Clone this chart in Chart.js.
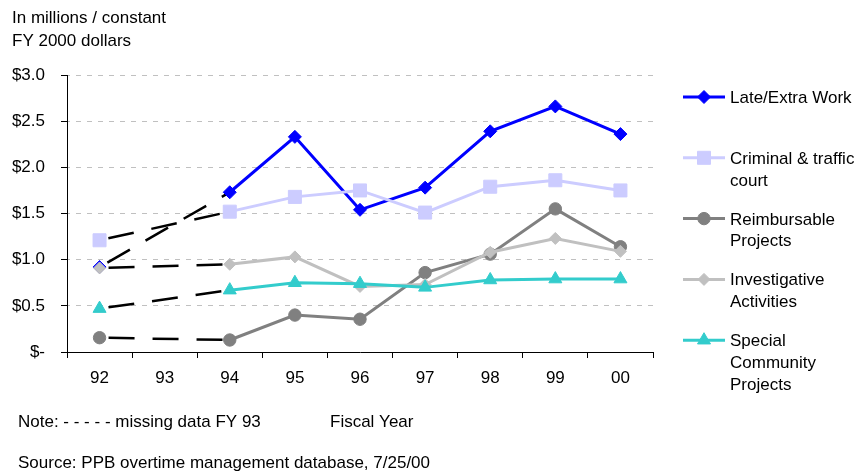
<!DOCTYPE html>
<html>
<head>
<meta charset="utf-8">
<title>Overtime by category, FY 92–00</title>
<script src="https://cdn.jsdelivr.net/npm/chart.js@4/dist/chart.umd.min.js"></script>
<style>
  html, body { margin: 0; padding: 0; background: #fff; }
  #wrap { width: 867px; height: 472px; position: relative; }
</style>
</head>
<body>
<div id="wrap"><canvas id="c" width="867" height="472"></canvas></div>
<script>
// Fiscal years (FY 93 has no data)
const years = ['92', '93', '94', '95', '96', '97', '98', '99', '00'];

// Overtime spending, millions of constant FY 2000 dollars
const lateExtraWork      = [0.92, null, 1.73, 2.33, 1.54, 1.78, 2.39, 2.66, 2.36];
const criminalTraffic    = [1.21, null, 1.52, 1.68, 1.75, 1.51, 1.79, 1.86, 1.75];
const reimbursable       = [0.155, null, 0.13, 0.40, 0.355, 0.86, 1.06, 1.55, 1.14];
const investigative      = [0.91, null, 0.95, 1.03, 0.71, 0.73, 1.08, 1.23, 1.09];
const specialCommunity   = [0.47, null, 0.67, 0.75, 0.74, 0.70, 0.78, 0.79, 0.79];

// Series names (legend lines)
const seriesNames = [
  ['Late/Extra Work'],
  ['Criminal & traffic', 'court'],
  ['Reimbursable', 'Projects'],
  ['Investigative', 'Activities'],
  ['Special', 'Community', 'Projects']
];

// Value-axis labels, bottom to top
const yTickLabels = ['$-', '$0.5', '$1.0', '$1.5', '$2.0', '$2.5', '$3.0'];

const FONT = '"Liberation Sans", Arial, Helvetica, sans-serif';
Chart.defaults.font.family = FONT;
Chart.defaults.font.size = 17;
Chart.defaults.color = '#000';

function series(label, data, color, style, radius, order) {
  // A segment that spans the missing year is drawn as black long dashes
  const bridge = (ctx, v) =>
    (data[ctx.p0DataIndex] == null || ctx.p1DataIndex - ctx.p0DataIndex > 1 ? v : undefined);
  return {
    label: label.join(' '),
    data: data,
    borderColor: color,
    backgroundColor: color,
    borderWidth: 3,
    pointStyle: style,
    pointRadius: radius,
    pointHoverRadius: radius,
    pointBorderWidth: 1,
    pointBorderColor: color,
    pointBackgroundColor: color,
    spanGaps: true,
    tension: 0,
    order: order,
    segment: {
      borderColor: ctx => bridge(ctx, '#000'),
      borderWidth: ctx => bridge(ctx, 2.5),
      borderDash: ctx => bridge(ctx, [26, 18]),
      borderDashOffset: ctx => bridge(ctx, 35)
    }
  };
}

const datasets = [
  series(seriesNames[0], lateExtraWork,    '#0000FF', 'rectRot',  6.5, 4),
  series(seriesNames[1], criminalTraffic,  '#CCCCFF', 'rect',     9.2, 3),
  series(seriesNames[2], reimbursable,     '#808080', 'circle',   6.2, 2),
  series(seriesNames[3], investigative,    '#C0C0C0', 'rectRot',  6,   1),
  series(seriesNames[4], specialCommunity, '#33CCCC', 'triangle', 7.5, 0)
];

// Legend, axis caption, note and source line
const annotations = {
  id: 'annotations',
  afterDraw(chart) {
    const ctx = chart.ctx;
    ctx.save();
    ctx.font = '17px ' + FONT;
    ctx.fillStyle = '#000';
    ctx.textAlign = 'left';
    ctx.textBaseline = 'alphabetic';

    ctx.fillText('In millions / constant', 12, 23);
    ctx.fillText('FY 2000 dollars', 12, 45.5);
    ctx.fillText('Note: - - - - - missing data FY 93', 18, 427);
    ctx.fillText('Fiscal Year', 330, 427);
    ctx.fillText('Source: PPB overtime management database, 7/25/00', 18, 468);

    // legend
    const x0 = 683, x1 = 725, tx = 730;
    chart.data.datasets.forEach((ds, i) => {
      const cy = 97 + i * 60.8;
      ctx.save();
      ctx.strokeStyle = ds.borderColor;
      ctx.lineWidth = 3;
      ctx.beginPath();
      ctx.moveTo(x0, cy);
      ctx.lineTo(x1, cy);
      ctx.stroke();
      ctx.fillStyle = ds.pointBackgroundColor;
      ctx.strokeStyle = ds.pointBorderColor;
      ctx.lineWidth = 1;
      Chart.helpers.drawPoint(ctx, {
        pointStyle: ds.pointStyle,
        radius: ds.pointRadius,
        rotation: 0,
        borderWidth: 1
      }, (x0 + x1) / 2, cy);
      ctx.restore();
      seriesNames[i].forEach((line, j) => {
        ctx.fillText(line, tx, cy + 6 + j * 21.7);
      });
    });
    ctx.restore();
  }
};

new Chart(document.getElementById('c'), {
  type: 'line',
  data: { labels: years, datasets: datasets },
  options: {
    responsive: false,
    animation: false,
    events: [],
    layout: { padding: { top: 75, right: 214, left: 0, bottom: 0 } },
    plugins: {
      legend: { display: false },
      tooltip: { enabled: false },
      title: { display: false }
    },
    scales: {
      x: {
        type: 'category',
        offset: true,
        afterFit(scale) { scale.height = 120; },
        grid: {
          offset: true,
          drawOnChartArea: false,
          drawTicks: true,
          tickLength: 6,
          tickColor: '#000',
          tickWidth: 1
        },
        border: { display: true, color: '#000', width: 1 },
        ticks: { padding: 10, maxRotation: 0, autoSkip: false, color: '#000', font: { size: 17 } }
      },
      y: {
        min: 0,
        max: 3,
        afterFit(scale) { scale.width = 67; },
        grid: {
          color: ctx => (ctx.tick && ctx.tick.value === 0 ? 'rgba(0,0,0,0)' : '#C0C0C0'),
          lineWidth: 1,
          tickLength: 6,
          tickColor: '#000',
          tickWidth: 1,
          tickBorderDash: []
        },
        border: { display: true, color: '#000', width: 1, dash: [5, 6], dashOffset: 3 },
        ticks: {
          stepSize: 0.5,
          padding: 16,
          color: '#000',
          font: { size: 17 },
          callback: (value) => yTickLabels[Math.round(value / 0.5)]
        }
      }
    }
  },
  plugins: [annotations]
});
</script>
</body>
</html>
